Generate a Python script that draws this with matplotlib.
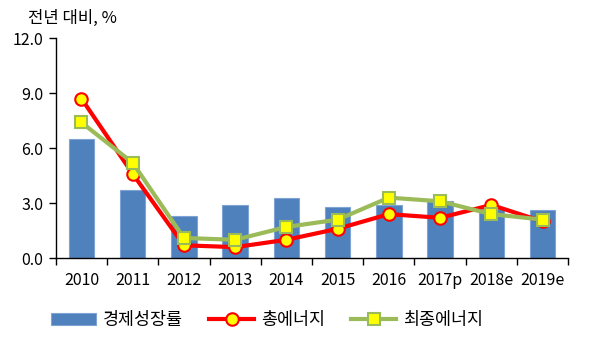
import matplotlib
matplotlib.use("Agg")
import matplotlib.pyplot as plt
import numpy as np

plt.rcParams['font.family'] = ['Noto Sans CJK KR', 'DejaVu Sans']

years = ["2010", "2011", "2012", "2013", "2014", "2015", "2016", "2017p", "2018e", "2019e"]
gdp_growth = [6.5, 3.7, 2.3, 2.9, 3.3, 2.8, 2.9, 3.1, 2.7, 2.6]
total_energy = [8.7, 4.6, 0.7, 0.6, 1.0, 1.6, 2.4, 2.2, 2.9, 2.0]
final_energy = [7.4, 5.2, 1.1, 1.0, 1.7, 2.1, 3.3, 3.1, 2.4, 2.1]

fig = plt.figure(figsize=(6, 3.37), dpi=100)
ax = fig.add_axes([0.093, 0.234, 0.854, 0.653])

x = np.arange(len(years))
bars = ax.bar(x, gdp_growth, width=0.5, color="#4F81BD", edgecolor="#7FA3D3",
              linewidth=0.8, label="경제성장률", zorder=1)
l1, = ax.plot(x, total_energy, color="#FF0000", linewidth=3, marker="o",
              markersize=9, markerfacecolor="#FFFF00", markeredgecolor="#FF0000",
              markeredgewidth=1.5, label="총에너지", zorder=3)
l2, = ax.plot(x, final_energy, color="#9BBB59", linewidth=3, marker="s",
              markersize=9, markerfacecolor="#FFFF00", markeredgecolor="#9BBB59",
              markeredgewidth=1.5, label="최종에너지", zorder=4)

ax.set_xlim(-0.5, len(years) - 0.5)
ax.set_ylim(0, 12)
ax.set_yticks([0, 3, 6, 9, 12])
ax.set_yticklabels(["0.0", "3.0", "6.0", "9.0", "12.0"])
ax.set_xticks(x)
ax.set_xticklabels(years)
ax.set_xticks(np.arange(-0.5, len(years)), minor=True)
ax.tick_params(axis="x", which="major", length=0, pad=10, labelsize=11.5)
ax.tick_params(axis="x", which="minor", length=5, width=1, direction="out")
ax.tick_params(axis="y", length=5, width=1, direction="out", labelsize=11.5, pad=4)

ax.spines["top"].set_visible(False)
ax.spines["right"].set_visible(False)
for s in ["left", "bottom"]:
    ax.spines[s].set_linewidth(1)
    ax.spines[s].set_color("black")

fig.text(0.047, 0.945, "전년 대비, %", fontsize=12, va="center", ha="left")

fig.legend([bars, l1, l2], ["경제성장률", "총에너지", "최종에너지"],
           loc="center", bbox_to_anchor=(0.445, 0.05), ncol=3, frameon=False,
           fontsize=12.5, handlelength=2.6, columnspacing=1.5, handletextpad=0.4)

fig.savefig("out.png", dpi=100)
